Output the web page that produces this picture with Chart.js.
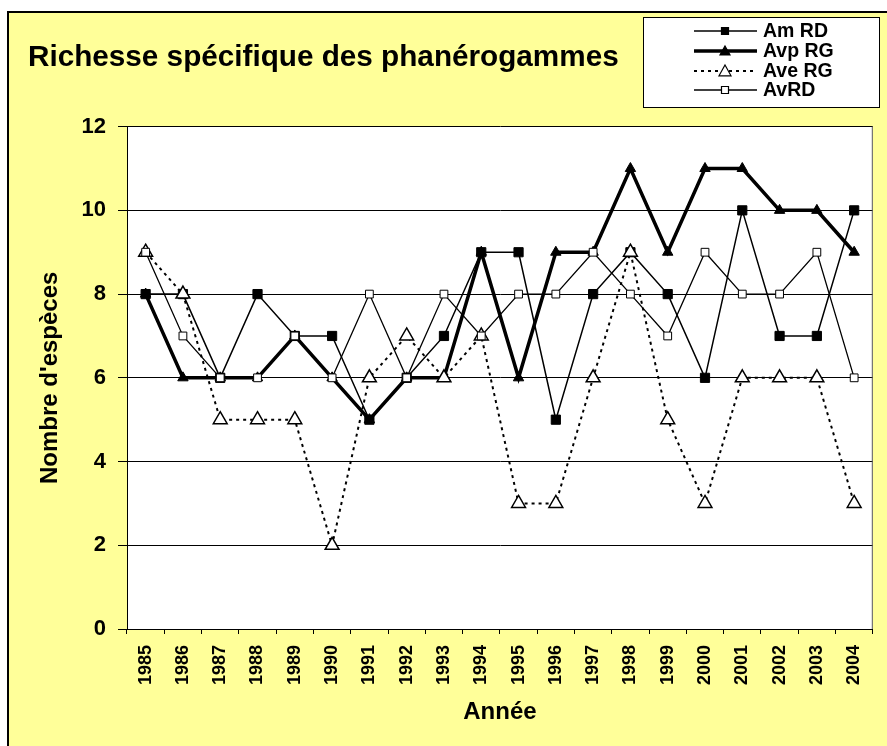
<!DOCTYPE html>
<html>
<head>
<meta charset="utf-8">
<script src="https://cdn.jsdelivr.net/npm/chart.js@4"></script>
<style>
  body { margin: 0; background: #fff; }
  #wrap { width: 887px; height: 746px; }
</style>
</head>
<body>
<div id="wrap"><canvas id="chart" width="887" height="746"></canvas></div>
<script>
// données
const years = ['1985', '1986', '1987', '1988', '1989', '1990', '1991', '1992', '1993', '1994',
               '1995', '1996', '1997', '1998', '1999', '2000', '2001', '2002', '2003', '2004'];
const amRD  = [8, 8, 6, 8, 7, 7, 5, 6, 7, 9, 9, 5, 8, 9, 8, 6, 10, 7, 7, 10];
const avpRG = [8, 6, 6, 6, 7, 6, 5, 6, 6, 9, 6, 9, 9, 11, 9, 11, 11, 10, 10, 9];
const aveRG = [9, 8, 5, 5, 5, 2, 6, 7, 6, 7, 3, 3, 6, 9, 5, 3, 6, 6, 6, 3];
const avRD  = [9, 7, 6, 6, 7, 6, 8, 6, 8, 7, 8, 8, 9, 8, 7, 9, 8, 8, 9, 6];
const yTicks = [0, 2, 4, 6, 8, 10, 12];

const FONT = "'Liberation Sans', Arial, sans-serif";
Chart.defaults.font.family = FONT;
Chart.defaults.color = '#000';

// fond jaune, cadre, zone de tracé blanche
const background = {
    id: 'background',
    beforeDraw(chart) {
        const ctx = chart.ctx;
        const a = chart.chartArea;
        ctx.save();
        ctx.fillStyle = '#fff';
        ctx.fillRect(0, 0, chart.width, chart.height);
        ctx.fillStyle = '#FFFF99';
        ctx.fillRect(8, 12, chart.width, chart.height);
        ctx.strokeStyle = '#000';
        ctx.lineWidth = 2;
        ctx.beginPath();
        ctx.moveTo(8, chart.height);
        ctx.lineTo(8, 12);
        ctx.lineTo(chart.width, 12);
        ctx.stroke();
        ctx.fillStyle = '#fff';
        ctx.fillRect(a.left, a.top, a.right - a.left, a.bottom - a.top);
        ctx.restore();
    },
    beforeDatasetsDraw(chart) {
        const ctx = chart.ctx;
        const a = chart.chartArea;
        ctx.save();
        ctx.strokeStyle = '#555';
        ctx.lineWidth = 1;
        ctx.beginPath();
        ctx.moveTo(a.right - 0.5, a.top);
        ctx.lineTo(a.right - 0.5, a.bottom);
        ctx.stroke();
        ctx.restore();
    }
};

function marker(ctx, style, x, y, r, fill, lw) {
    ctx.beginPath();
    if (style === 'rect') {
        ctx.rect(x - r, y - r, 2 * r, 2 * r);
    } else {
        ctx.moveTo(x, y - r);
        ctx.lineTo(x + r, y + r * 0.8);
        ctx.lineTo(x - r, y + r * 0.8);
        ctx.closePath();
    }
    ctx.fillStyle = fill;
    ctx.fill();
    ctx.lineWidth = lw;
    ctx.setLineDash([]);
    ctx.strokeStyle = '#000';
    ctx.stroke();
}

// légende dans un cadre en haut à droite
const boxLegend = {
    id: 'boxLegend',
    afterDraw(chart) {
        const ctx = chart.ctx;
        ctx.save();
        ctx.fillStyle = '#fff';
        ctx.fillRect(643, 17, 236, 90);
        ctx.strokeStyle = '#000';
        ctx.lineWidth = 1;
        ctx.strokeRect(643.5, 17.5, 236, 90);
        const rows = [31, 51, 71, 90];
        const legendMarks = [
            { style: 'rect', r: 3.5, fill: '#000' },
            { style: 'tri', r: 5, fill: '#000' },
            { style: 'tri', r: 6, fill: '#fff' },
            { style: 'rect', r: 3.5, fill: '#fff' }
        ];
        chart.data.datasets.forEach((ds, i) => {
            const y = rows[i];
            ctx.strokeStyle = '#000';
            ctx.lineWidth = ds.borderWidth;
            ctx.setLineDash(ds.borderDash || []);
            ctx.beginPath();
            ctx.moveTo(694, y);
            ctx.lineTo(757, y);
            ctx.stroke();
            const m = legendMarks[i];
            marker(ctx, m.style, 725, y, m.r, m.fill, 1.2);
            ctx.fillStyle = '#000';
            ctx.font = 'bold 19.5px ' + FONT;
            ctx.textBaseline = 'middle';
            ctx.textAlign = 'left';
            ctx.fillText(ds.label, 763, y + 1);
        });
        ctx.restore();
    }
};

new Chart(document.getElementById('chart'), {
    type: 'line',
    data: {
        labels: years,
        datasets: [{
            label: 'Am RD',
            data: amRD,
            borderColor: '#000',
            borderWidth: 1.5,
            pointStyle: 'rect',
            pointRadius: 6.5,
            pointBackgroundColor: '#000',
            pointBorderColor: '#000',
            pointBorderWidth: 1,
            order: 3
        }, {
            label: 'Avp RG',
            data: avpRG,
            borderColor: '#000',
            borderWidth: 3.5,
            pointStyle: 'triangle',
            pointRadius: 6,
            pointBackgroundColor: '#000',
            pointBorderColor: '#000',
            pointBorderWidth: 1,
            order: 2
        }, {
            label: 'Ave RG',
            data: aveRG,
            borderColor: '#000',
            borderWidth: 2,
            borderDash: [3, 4],
            pointStyle: 'triangle',
            pointRadius: 8,
            pointBackgroundColor: '#fff',
            pointBorderColor: '#000',
            pointBorderWidth: 1.5,
            order: 1
        }, {
            label: 'AvRD',
            data: avRD,
            borderColor: '#000',
            borderWidth: 1.3,
            pointStyle: 'rect',
            pointRadius: 5.5,
            pointBackgroundColor: '#fff',
            pointBorderColor: '#000',
            pointBorderWidth: 1,
            order: 0
        }]
    },
    options: {
        responsive: false,
        animation: false,
        events: [],
        elements: { line: { tension: 0, fill: false } },
        layout: { padding: { top: 12, left: 28, right: 4, bottom: 0 } },
        plugins: {
            legend: { display: false },
            tooltip: { enabled: false },
            title: {
                display: true,
                text: 'Richesse spécifique des phanérogammes',
                align: 'start',
                color: '#000',
                font: { size: 29.7, weight: 'bold' },
                padding: { top: 28, bottom: 51 }
            }
        },
        scales: {
            x: {
                type: 'category',
                offset: true,
                afterFit: (scale) => { scale.height = 117; },
                grid: { drawOnChartArea: false, offset: true, tickLength: 5, color: '#000' },
                border: { color: '#000', width: 1 },
                ticks: {
                    minRotation: 90,
                    maxRotation: 90,
                    autoSkip: false,
                    padding: 11,
                    font: { size: 18, weight: 'bold' }
                },
                title: {
                    display: true,
                    text: 'Année',
                    font: { size: 24, weight: 'bold' },
                    padding: { top: 0, bottom: 19 }
                }
            },
            y: {
                min: yTicks[0],
                max: yTicks[yTicks.length - 1],
                afterFit: (scale) => { scale.width = 99; },
                afterBuildTicks: (scale) => { scale.ticks = yTicks.map(v => ({ value: v })); },
                grid: { color: '#000', lineWidth: 1, tickLength: 9 },
                border: { color: '#000', width: 1 },
                ticks: {
                    padding: 12,
                    font: { size: 22, weight: 'bold' }
                },
                title: {
                    display: true,
                    text: "Nombre d'espèces",
                    font: { size: 24, weight: 'bold' },
                    padding: { top: 8, bottom: 0 }
                }
            }
        }
    },
    plugins: [background, boxLegend]
});
</script>
</body>
</html>
